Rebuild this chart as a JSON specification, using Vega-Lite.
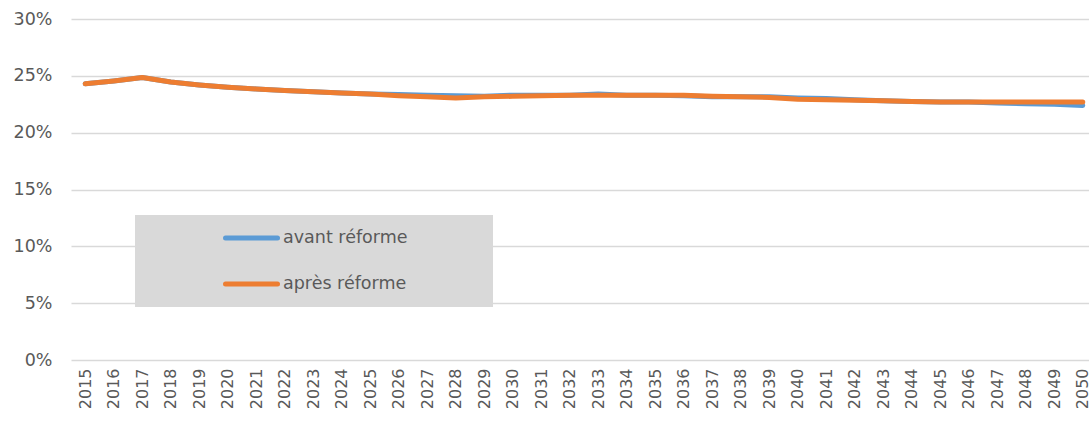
{
  "$schema": "https://vega.github.io/schema/vega-lite/v6.json",
  "autosize": "none",
  "width": 1026,
  "height": 341,
  "padding": {"left": 71, "top": 19, "right": 0, "bottom": 65},
  "background": "white",
  "config": {
    "view": {"stroke": null},
    "font": "DejaVu Sans"
  },
  "data": {
    "values": [
      {"year": "2015", "avant réforme": 0.2430, "après réforme": 0.2430},
      {"year": "2016", "avant réforme": 0.2455, "après réforme": 0.2455},
      {"year": "2017", "avant réforme": 0.2485, "après réforme": 0.2485},
      {"year": "2018", "avant réforme": 0.2445, "après réforme": 0.2445},
      {"year": "2019", "avant réforme": 0.2420, "après réforme": 0.2420},
      {"year": "2020", "avant réforme": 0.2400, "après réforme": 0.2400},
      {"year": "2021", "avant réforme": 0.2385, "après réforme": 0.2385},
      {"year": "2022", "avant réforme": 0.2370, "après réforme": 0.2370},
      {"year": "2023", "avant réforme": 0.2360, "après réforme": 0.2360},
      {"year": "2024", "avant réforme": 0.2350, "après réforme": 0.2350},
      {"year": "2025", "avant réforme": 0.2340, "après réforme": 0.2340},
      {"year": "2026", "avant réforme": 0.2335, "après réforme": 0.2325},
      {"year": "2027", "avant réforme": 0.2330, "après réforme": 0.2315},
      {"year": "2028", "avant réforme": 0.2325, "après réforme": 0.2305},
      {"year": "2029", "avant réforme": 0.2320, "après réforme": 0.2315},
      {"year": "2030", "avant réforme": 0.2330, "après réforme": 0.2320},
      {"year": "2031", "avant réforme": 0.2330, "après réforme": 0.2325},
      {"year": "2032", "avant réforme": 0.2330, "après réforme": 0.2330},
      {"year": "2033", "avant réforme": 0.2340, "après réforme": 0.2330},
      {"year": "2034", "avant réforme": 0.2330, "après réforme": 0.2330},
      {"year": "2035", "avant réforme": 0.2330, "après réforme": 0.2330},
      {"year": "2036", "avant réforme": 0.2325, "après réforme": 0.2330},
      {"year": "2037", "avant réforme": 0.2315, "après réforme": 0.2320},
      {"year": "2038", "avant réforme": 0.2315, "après réforme": 0.2315},
      {"year": "2039", "avant réforme": 0.2315, "après réforme": 0.2310},
      {"year": "2040", "avant réforme": 0.2305, "après réforme": 0.2295},
      {"year": "2041", "avant réforme": 0.2300, "après réforme": 0.2290},
      {"year": "2042", "avant réforme": 0.2290, "après réforme": 0.2285},
      {"year": "2043", "avant réforme": 0.2280, "après réforme": 0.2280},
      {"year": "2044", "avant réforme": 0.2275, "après réforme": 0.2275},
      {"year": "2045", "avant réforme": 0.2270, "après réforme": 0.2270},
      {"year": "2046", "avant réforme": 0.2270, "après réforme": 0.2270},
      {"year": "2047", "avant réforme": 0.2260, "après réforme": 0.2270},
      {"year": "2048", "avant réforme": 0.2255, "après réforme": 0.2270},
      {"year": "2049", "avant réforme": 0.2250, "après réforme": 0.2270},
      {"year": "2050", "avant réforme": 0.2240, "après réforme": 0.2270}
    ]
  },
  "transform": [
    {"fold": ["avant réforme", "après réforme"], "as": ["serie", "value"]}
  ],
  "mark": {"type": "line", "strokeWidth": 5, "strokeCap": "round", "strokeJoin": "round"},
  "encoding": {
    "x": {
      "field": "year",
      "type": "ordinal",
      "scale": {"type": "point", "padding": 0.5},
      "axis": {
        "title": null,
        "labelAngle": -90,
        "labelAlign": "right",
        "labelBaseline": "middle",
        "labelFontSize": 16,
        "labelColor": "#595959",
        "labelPadding": 8,
        "ticks": false,
        "domain": false,
        "grid": false
      }
    },
    "y": {
      "field": "value",
      "type": "quantitative",
      "scale": {"domain": [0, 0.3], "nice": false},
      "axis": {
        "title": null,
        "values": [0, 0.05, 0.1, 0.15, 0.2, 0.25, 0.3],
        "format": ".0%",
        "labelFontSize": 17.5,
        "labelColor": "#595959",
        "labelPadding": 19,
        "ticks": false,
        "domain": false,
        "grid": true,
        "gridColor": "#d9d9d9",
        "gridWidth": 1.5
      }
    },
    "color": {
      "field": "serie",
      "type": "nominal",
      "sort": ["avant réforme", "après réforme"],
      "scale": {"domain": ["avant réforme", "après réforme"], "range": ["#5B9BD5", "#ED7D31"]},
      "legend": {
        "title": null,
        "orient": "none",
        "legendX": 64,
        "legendY": 196,
        "fillColor": "#d9d9d9",
        "padding": 13,
        "symbolType": "stroke",
        "symbolSize": 2704,
        "symbolStrokeWidth": 5,
        "symbolOffset": 75,
        "clipHeight": 20,
        "rowPadding": 26,
        "labelOffset": 3,
        "labelFontSize": 17.5,
        "labelLimit": 400,
        "labelColor": "#595959",
        "labelExpr": "datum.label + '\u00a0\u00a0\u00a0\u00a0\u00a0\u00a0\u00a0\u00a0\u00a0\u00a0\u00a0\u00a0\u00a0\u200b'",
        "encode": {"symbols": {"update": {"strokeCap": {"value": "round"}}}}
      }
    }
  }
}
